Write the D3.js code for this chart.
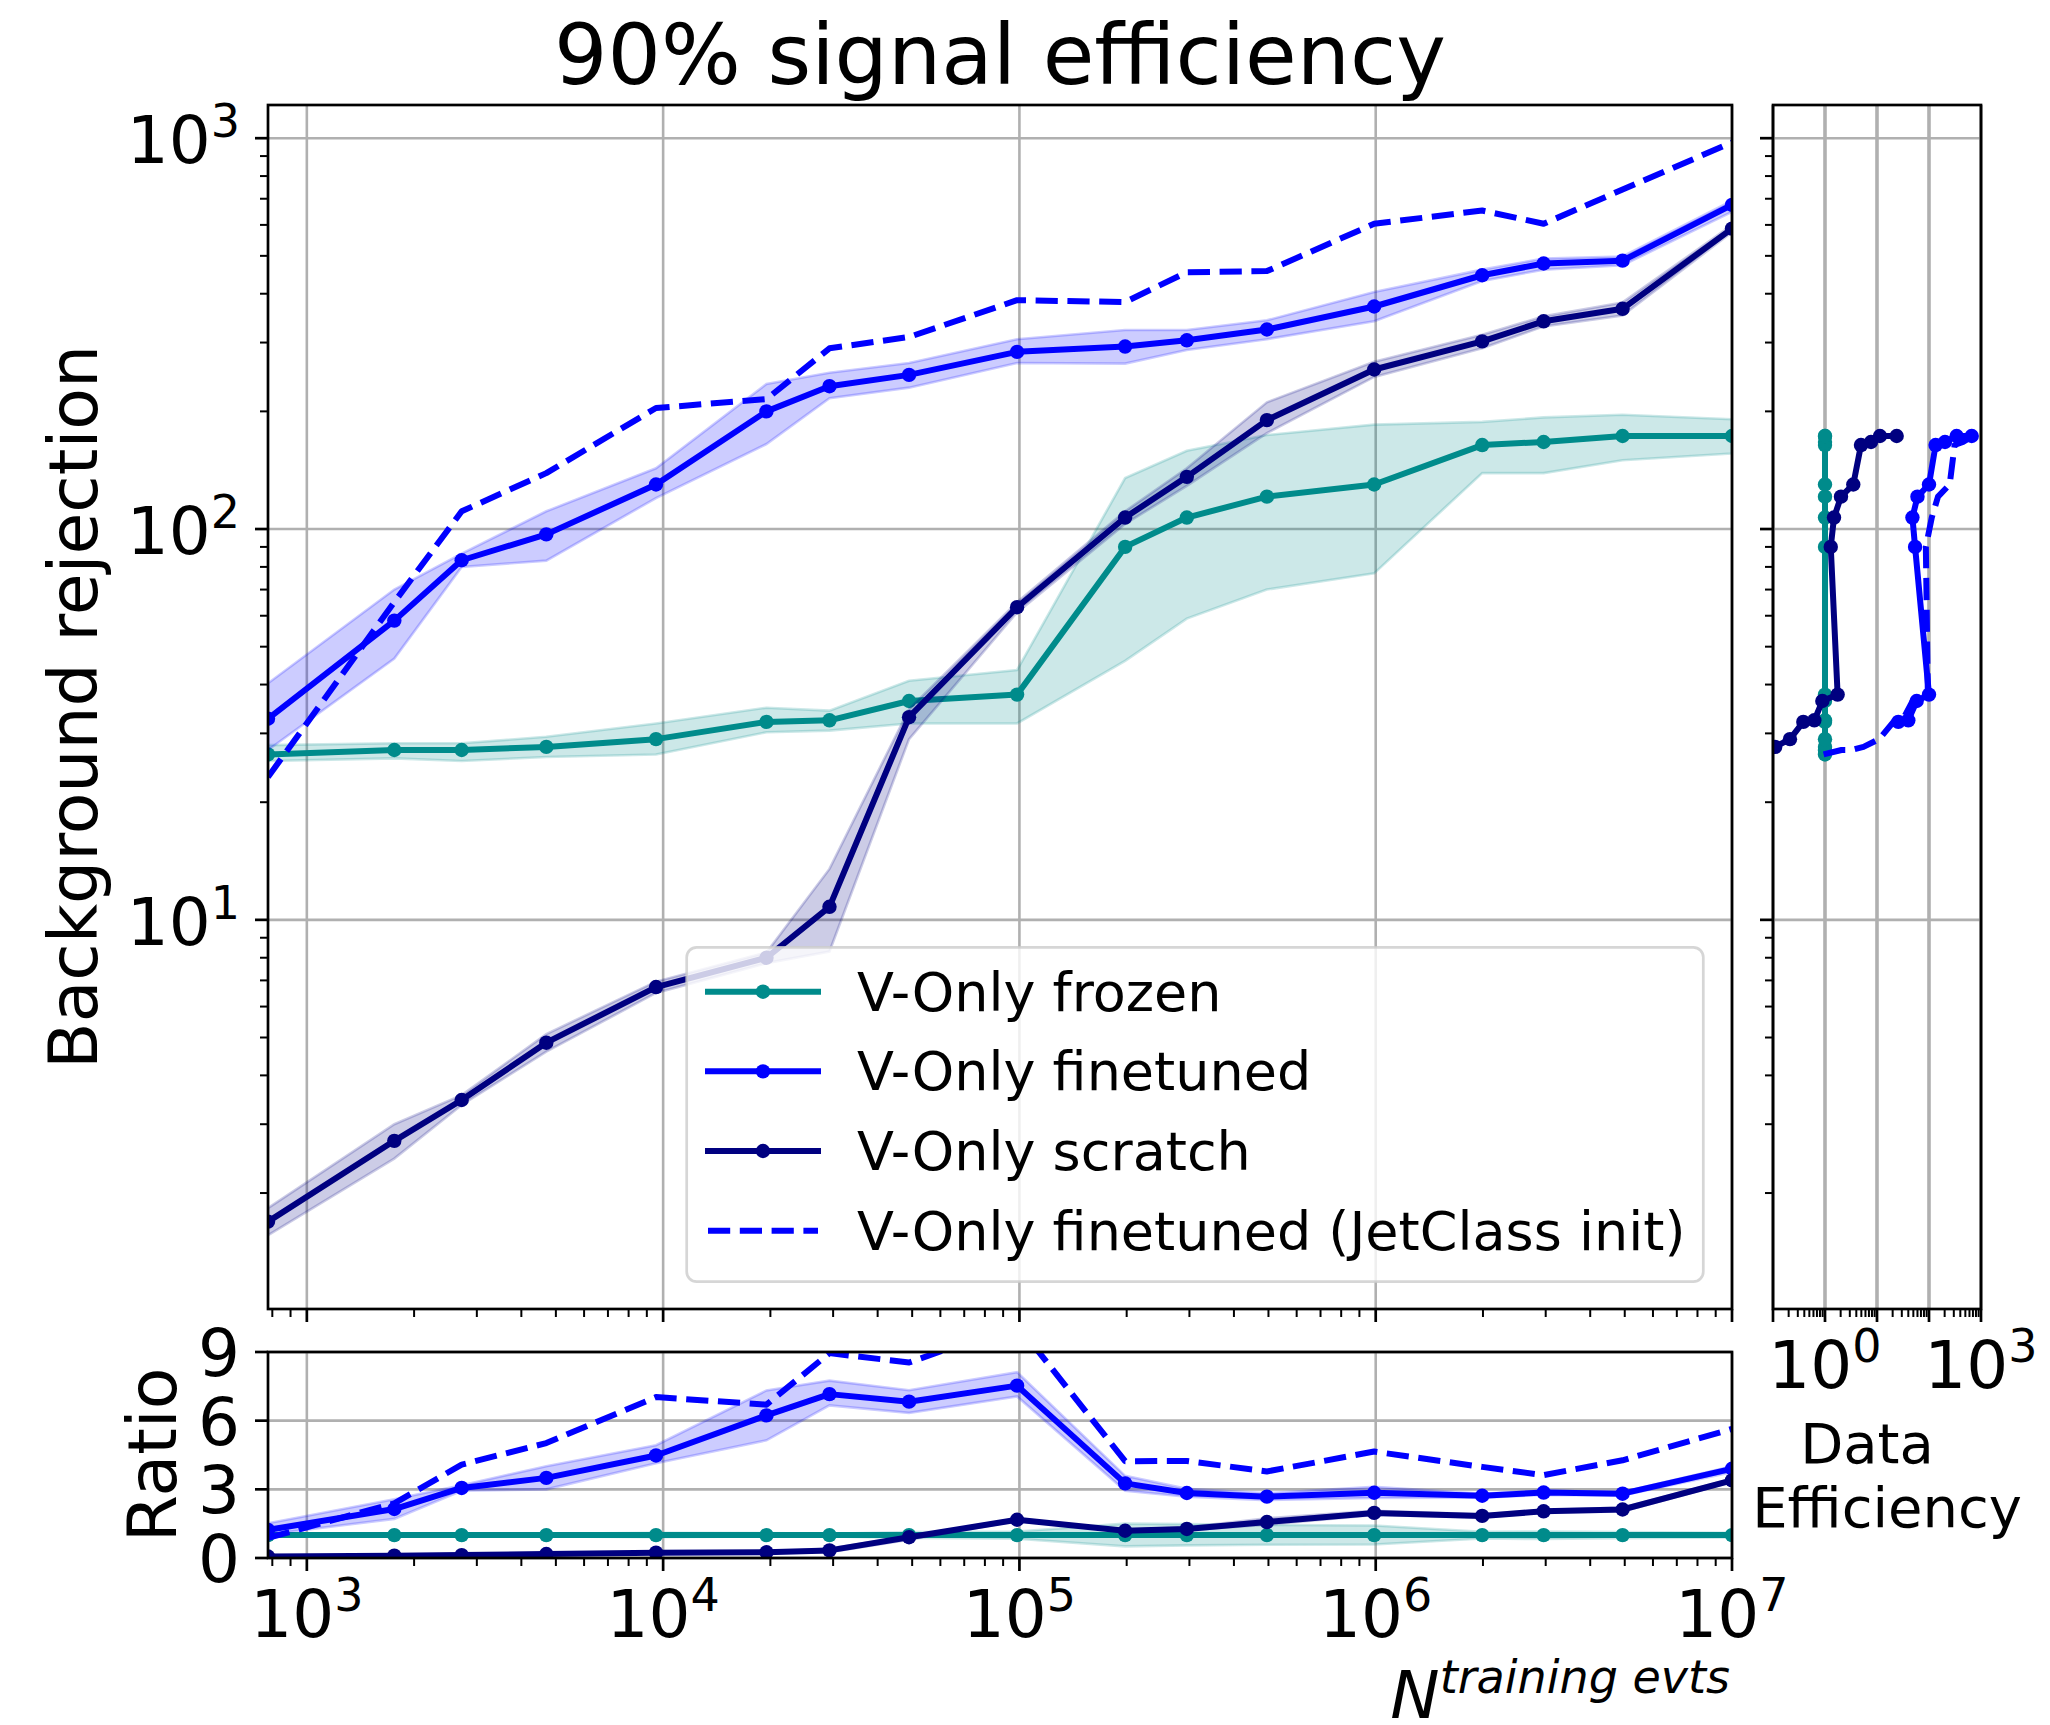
<!DOCTYPE html>
<html>
<head>
<meta charset="utf-8">
<script src="https://cdn.jsdelivr.net/npm/d3@7"></script>
<style>
  html, body { margin: 0; padding: 0; background: #ffffff; }
  svg { display: block; }
  text { font-family: "DejaVu Sans", sans-serif; fill: #000; }
</style>
</head>
<body>
<script>
// ---------------- data ----------------
const nTrain = [778, 1760, 2720, 4700, 9550, 19500, 29300, 49000, 98500, 198000, 295000, 495000, 990000, 1990000, 2960000, 4930000, 10000000];

const frozen      = [26.5, 27.2, 27.2, 27.7, 29.0, 32.1, 32.4, 36.3, 37.7, 90, 107, 121, 130, 164, 167, 173, 173];
const frozenLo    = [25.5, 25.9, 25.5, 26.1, 26.5, 30.2, 30.5, 31.8, 31.8, 46, 59, 70, 77, 139, 139, 150, 156];
const frozenHi    = [28.0, 28.3, 28.3, 29.4, 31.8, 34.9, 34.3, 40.9, 43.6, 135, 158.6, 174, 185, 188, 193, 196, 191];

const finetuned   = [32.7, 58.3, 83.2, 96.9, 130, 200, 232, 248, 284, 293, 304, 324, 371, 446, 478, 486, 675];
const finetunedLo = [27.2, 46.6, 80, 83, 120, 165, 216, 230, 266, 265, 287, 306, 340, 431, 461, 473, 648];
const finetunedHi = [40.3, 70, 86.5, 111, 143, 235, 251, 266, 306, 323, 323, 342, 404, 461, 492, 498, 692];

const scratch     = [1.69, 2.72, 3.46, 4.85, 6.73, 8.0, 10.8, 33.0, 63.1, 107, 136, 190, 256, 302, 340, 366, 587];
const scratchLo   = [1.56, 2.45, 3.36, 4.6, 6.5, 7.75, 8.3, 29.0, 61.2, 103, 129, 176, 245, 290, 330, 352, 575];
const scratchHi   = [1.83, 3.0, 3.56, 5.1, 6.95, 8.25, 13.5, 34.6, 65, 111, 143, 211, 268, 314, 350, 380, 599];

const jetclass    = [23.2, 65, 111, 139, 204, 215, 290, 310, 385, 381, 454, 457, 604, 653, 604, 739, 975];

// ratio to frozen (lower panel)
const ratioFrozen     = [1, 1, 1, 1, 1, 1, 1, 1, 1, 1, 1, 1, 1, 1, 1, 1, 1];
const ratioFrozenLo   = [0.96, 0.95, 0.94, 0.94, 0.91, 0.94, 0.94, 0.88, 0.84, 0.51, 0.55, 0.58, 0.59, 0.85, 0.83, 0.87, 0.90];
const ratioFrozenHi   = [1.06, 1.04, 1.04, 1.06, 1.10, 1.09, 1.06, 1.13, 1.16, 1.50, 1.48, 1.44, 1.42, 1.15, 1.16, 1.13, 1.10];
const ratioFinetuned   = [1.23, 2.14, 3.06, 3.50, 4.48, 6.23, 7.16, 6.83, 7.53, 3.26, 2.84, 2.68, 2.85, 2.72, 2.86, 2.81, 3.90];
const ratioFinetunedLo = [1.03, 1.71, 2.94, 3.00, 4.14, 5.14, 6.67, 6.34, 7.06, 2.94, 2.68, 2.53, 2.62, 2.63, 2.76, 2.73, 3.75];
const ratioFinetunedHi = [1.52, 2.57, 3.18, 4.01, 4.93, 7.32, 7.75, 7.33, 8.12, 3.59, 3.02, 2.83, 3.11, 2.81, 2.95, 2.88, 4.00];
const ratioScratch     = [0.064, 0.10, 0.127, 0.175, 0.232, 0.249, 0.333, 0.909, 1.67, 1.19, 1.27, 1.57, 1.97, 1.84, 2.04, 2.12, 3.39];
const ratioScratchLo   = [0.059, 0.09, 0.124, 0.166, 0.224, 0.241, 0.256, 0.80, 1.62, 1.14, 1.21, 1.45, 1.88, 1.77, 1.98, 2.03, 3.32];
const ratioScratchHi   = [0.069, 0.11, 0.131, 0.184, 0.240, 0.257, 0.417, 0.953, 1.72, 1.23, 1.34, 1.74, 2.06, 1.91, 2.10, 2.20, 3.46];
const ratioJetclass    = [0.875, 2.39, 4.08, 5.02, 7.03, 6.70, 8.95, 8.54, 10.2, 4.23, 4.24, 3.78, 4.65, 3.98, 3.62, 4.27, 5.64];

// data efficiency (right panel), at the frozen rejection levels
const effLevels    = [26.5, 27.2, 27.2, 27.7, 29.0, 32.1, 32.4, 36.3, 37.7, 90, 107, 121, 130, 164, 167, 173, 173];
const effFrozen    = [1, 1, 1, 1, 1, 1, 1, 1, 1, 1, 1, 1, 1, 1, 1, 1, 1];
const effScratch   = [0.018, 0.039, 0.06, 0.11, 0.212, 0.383, 0.623, 0.889, 1.75, 1.29, 1.49, 2.03, 3.5, 4.92, 7.67, 11.4, 23.9];
const effFinetuned = [null, null, null, null, null, 25.7, 40, 58, 100, 54, 48, 60, 100, 134, 203, 340, 663];
const effJetclass  = [0.94, 2.07, 3.2, 5.5, 11, 20.7, 30.7, 48.5, 95, 87, 113, 149, 250, 311, 451, 703, 1406];

const seriesNames = ["V-Only frozen", "V-Only finetuned", "V-Only scratch", "V-Only finetuned (JetClass init)"];
const yTickLabelsRatio = ["0", "3", "6", "9"];

// ---------------- styling ----------------
const W = 2050, H = 1725;
const C_FROZEN = "#008b8b", C_FT = "#0000ff", C_SCRATCH = "#000080";
const LW = 6, MR = 7.2, GRID = "#b0b0b0";
const FS_TICK = 66, FS_SUP = 46, FS_LABEL = 68, FS_TITLE = 84, FS_LEG = 54;

const svg = d3.select("body").append("svg").attr("width", W).attr("height", H);
svg.append("rect").attr("width", W).attr("height", H).attr("fill", "#fff");

// panels
const P = {
  main:  { l: 268, r: 1732, t: 105, b: 1309 },
  ratio: { l: 268, r: 1732, t: 1352, b: 1558 },
  right: { l: 1773, r: 1981, t: 105, b: 1309 }
};

const xMain = d3.scaleLog().domain([778, 1e7]).range([P.main.l, P.main.r]);
const yMain = d3.scaleLog().domain([1.01, 1216]).range([P.main.b, P.main.t]);
const yRatio = d3.scaleLinear().domain([0, 9]).range([P.ratio.b, P.ratio.t]);
const xRight = d3.scaleLog().domain([0.1, 1000]).range([P.right.l, P.right.r]);

function logTicks(domain) {
  const [a, b] = domain, majors = [], minors = [];
  for (let e = Math.floor(Math.log10(a)) - 1; e <= Math.ceil(Math.log10(b)); e++) {
    for (let m = 1; m <= 9; m++) {
      const v = m * Math.pow(10, e);
      if (v >= a * 0.9999 && v <= b * 1.0001) (m === 1 ? majors : minors).push(v);
    }
  }
  return { majors, minors };
}

const defs = svg.append("defs");
Object.entries(P).forEach(([k, p]) => {
  defs.append("clipPath").attr("id", "clip-" + k).append("rect")
    .attr("x", p.l).attr("y", p.t).attr("width", p.r - p.l).attr("height", p.b - p.t);
});

// ---------------- grids ----------------
const gGrid = svg.append("g");
function vgrid(p, scale, vals, w) {
  vals.forEach(v => gGrid.append("line")
    .attr("x1", scale(v)).attr("x2", scale(v)).attr("y1", p.t).attr("y2", p.b)
    .attr("stroke", GRID).attr("stroke-width", w));
}
function hgrid(p, scale, vals, w) {
  vals.forEach(v => gGrid.append("line")
    .attr("y1", scale(v)).attr("y2", scale(v)).attr("x1", p.l).attr("x2", p.r)
    .attr("stroke", GRID).attr("stroke-width", w));
}
const xT = logTicks(xMain.domain());
const yT = logTicks(yMain.domain());
const xRT = logTicks(xRight.domain());
vgrid(P.main, xMain, xT.majors, 2.6);
hgrid(P.main, yMain, yT.majors, 2.6);
vgrid(P.ratio, xMain, xT.majors, 2.6);
hgrid(P.ratio, yRatio, [0, 3, 6, 9], 2.6);
vgrid(P.right, xRight, xRT.majors, 3.6);
hgrid(P.right, yMain, yT.majors, 2.6);

// ---------------- series drawing ----------------
function drawSeries(g, xs, ys, lo, hi, xScale, yScale, color, opts) {
  const pts = xs.map((x, i) => ({ x, y: ys[i], lo: lo ? lo[i] : null, hi: hi ? hi[i] : null }))
    .filter(d => d.x != null && d.y != null);
  if (lo && hi) {
    const area = d3.area().x(d => xScale(d.x)).y0(d => yScale(d.lo)).y1(d => yScale(d.hi));
    g.append("path").attr("d", area(pts))
      .attr("fill", color).attr("fill-opacity", 0.2)
      .attr("stroke", color).attr("stroke-opacity", 0.2).attr("stroke-width", 2.6);
  }
  const line = d3.line().x(d => xScale(d.x)).y(d => yScale(d.y));
  const path = g.append("path").attr("d", line(pts)).attr("fill", "none")
    .attr("stroke", color).attr("stroke-width", LW)
    .attr("stroke-linejoin", "round");
  if (opts.dashed) path.attr("stroke-dasharray", "22.2,9.6").attr("stroke-linecap", "butt");
  else path.attr("stroke-linecap", "square");
  if (opts.markers) {
    g.selectAll(null).data(pts).enter().append("circle")
      .attr("cx", d => xScale(d.x)).attr("cy", d => yScale(d.y)).attr("r", MR)
      .attr("fill", color);
  }
}

// main panel
const gMain = svg.append("g").attr("clip-path", "url(#clip-main)");
drawSeries(gMain, nTrain, frozen, frozenLo, frozenHi, xMain, yMain, C_FROZEN, { markers: true });
drawSeries(gMain, nTrain, finetuned, finetunedLo, finetunedHi, xMain, yMain, C_FT, { markers: true });
drawSeries(gMain, nTrain, scratch, scratchLo, scratchHi, xMain, yMain, C_SCRATCH, { markers: true });
drawSeries(gMain, nTrain, jetclass, null, null, xMain, yMain, C_FT, { dashed: true });

// ratio panel
const gRatio = svg.append("g").attr("clip-path", "url(#clip-ratio)");
drawSeries(gRatio, nTrain, ratioFrozen, ratioFrozenLo, ratioFrozenHi, xMain, yRatio, C_FROZEN, { markers: true });
drawSeries(gRatio, nTrain, ratioFinetuned, ratioFinetunedLo, ratioFinetunedHi, xMain, yRatio, C_FT, { markers: true });
drawSeries(gRatio, nTrain, ratioScratch, ratioScratchLo, ratioScratchHi, xMain, yRatio, C_SCRATCH, { markers: true });
drawSeries(gRatio, nTrain, ratioJetclass, null, null, xMain, yRatio, C_FT, { dashed: true });

// right panel (data efficiency)
const gRight = svg.append("g").attr("clip-path", "url(#clip-right)");
drawSeries(gRight, effFrozen, effLevels, null, null, xRight, yMain, C_FROZEN, { markers: true });
drawSeries(gRight, effFinetuned, effLevels, null, null, xRight, yMain, C_FT, { markers: true });
drawSeries(gRight, effScratch, effLevels, null, null, xRight, yMain, C_SCRATCH, { markers: true });
drawSeries(gRight, effJetclass, effLevels, null, null, xRight, yMain, C_FT, { dashed: true });

// ---------------- axes, ticks ----------------
const gAx = svg.append("g");
const SPINE = 2.7, TMAJ = 13, TMIN = 8, TWMAJ = 2.7, TWMIN = 2.0;

function frame(p) {
  gAx.append("rect").attr("x", p.l).attr("y", p.t).attr("width", p.r - p.l).attr("height", p.b - p.t)
    .attr("fill", "none").attr("stroke", "#000").attr("stroke-width", SPINE);
}
function xTicksBottom(p, scale, ticks) {
  ticks.majors.forEach(v => gAx.append("line").attr("x1", scale(v)).attr("x2", scale(v))
    .attr("y1", p.b).attr("y2", p.b + TMAJ).attr("stroke", "#000").attr("stroke-width", TWMAJ));
  ticks.minors.forEach(v => gAx.append("line").attr("x1", scale(v)).attr("x2", scale(v))
    .attr("y1", p.b).attr("y2", p.b + TMIN).attr("stroke", "#000").attr("stroke-width", TWMIN));
}
function yTicksLeft(p, scale, majors, minors) {
  majors.forEach(v => gAx.append("line").attr("y1", scale(v)).attr("y2", scale(v))
    .attr("x1", p.l).attr("x2", p.l - TMAJ).attr("stroke", "#000").attr("stroke-width", TWMAJ));
  (minors || []).forEach(v => gAx.append("line").attr("y1", scale(v)).attr("y2", scale(v))
    .attr("x1", p.l).attr("x2", p.l - TMIN).attr("stroke", "#000").attr("stroke-width", TWMIN));
}
frame(P.main); frame(P.ratio); frame(P.right);
xTicksBottom(P.main, xMain, xT);
xTicksBottom(P.ratio, xMain, xT);
xTicksBottom(P.right, xRight, xRT);
yTicksLeft(P.main, yMain, yT.majors, yT.minors);
yTicksLeft(P.right, yMain, yT.majors, yT.minors);
yTicksLeft(P.ratio, yRatio, [0, 3, 6, 9], []);

function powLabel(x, y, v, anchor) {
  const e = Math.round(Math.log10(v));
  const t = gAx.append("text").attr("x", x).attr("y", y).attr("text-anchor", anchor)
    .attr("font-size", FS_TICK);
  t.append("tspan").text("10");
  t.append("tspan").attr("font-size", FS_SUP).attr("dy", -26).text(String(e));
}
// main y labels
yT.majors.forEach(v => powLabel(240, yMain(v) + 25, v, "end"));
// ratio x labels
xT.majors.forEach(v => powLabel(xMain(v), 1637, v, "middle"));
// right panel x labels (only 10^0 and 10^3)
[1, 1000].forEach(v => powLabel(xRight(v), 1388, v, "middle"));
// ratio y labels
[0, 3, 6, 9].forEach((v, i) => gAx.append("text").attr("x", 240).attr("y", yRatio(v) + 24)
  .attr("text-anchor", "end").attr("font-size", FS_TICK).text(yTickLabelsRatio[i]));

// ---------------- titles / labels ----------------
svg.append("text").attr("x", 1000).attr("y", 84).attr("text-anchor", "middle")
  .attr("font-size", FS_TITLE).text("90% signal efficiency");

svg.append("text").attr("transform", `translate(97,${(P.main.t + P.main.b) / 2}) rotate(-90)`)
  .attr("text-anchor", "middle").attr("font-size", FS_LABEL).text("Background rejection");

svg.append("text").attr("transform", `translate(176,${(P.ratio.t + P.ratio.b) / 2}) rotate(-90)`)
  .attr("text-anchor", "middle").attr("font-size", FS_LABEL).text("Ratio");

svg.append("text").attr("x", 1867).attr("y", 1463).attr("text-anchor", "middle")
  .attr("font-size", 56).text("Data");
svg.append("text").attr("x", 1887).attr("y", 1527).attr("text-anchor", "middle")
  .attr("font-size", 56).text("Efficiency");

const nl = svg.append("text").attr("x", 1730).attr("y", 1718).attr("text-anchor", "end")
  .attr("font-style", "italic").attr("font-size", FS_TICK);
nl.append("tspan").text("N");
nl.append("tspan").attr("font-size", FS_SUP).attr("dy", -25).text("training evts");

// ---------------- legend ----------------
const leg = svg.append("g");
leg.append("rect").attr("x", 686.7).attr("y", 947.3).attr("width", 1016.6).attr("height", 334.4)
  .attr("rx", 10).attr("fill", "#fff").attr("fill-opacity", 0.8)
  .attr("stroke", "#cccccc").attr("stroke-opacity", 0.8).attr("stroke-width", 2.7);
const legendStyles = [
  { color: C_FROZEN, markers: true, dashed: false },
  { color: C_FT, markers: true, dashed: false },
  { color: C_SCRATCH, markers: true, dashed: false },
  { color: C_FT, markers: false, dashed: true }
];
const legRowY = d3.scaleLinear().domain([0, 3]).range([991.7, 1230.7]);
seriesNames.forEach((name, i) => {
  const s = legendStyles[i], y = legRowY(i);
  const ln = leg.append("line").attr("x1", 708).attr("x2", 818).attr("y1", y).attr("y2", y)
    .attr("stroke", s.color).attr("stroke-width", LW);
  if (s.dashed) ln.attr("stroke-dasharray", "22.2,9.6").attr("stroke-linecap", "butt");
  else ln.attr("stroke-linecap", "square");
  if (s.markers) leg.append("circle").attr("cx", 763).attr("cy", y).attr("r", MR).attr("fill", s.color);
  leg.append("text").attr("x", 857).attr("y", y + 19).attr("font-size", FS_LEG).text(name);
});
</script>
</body>
</html>
